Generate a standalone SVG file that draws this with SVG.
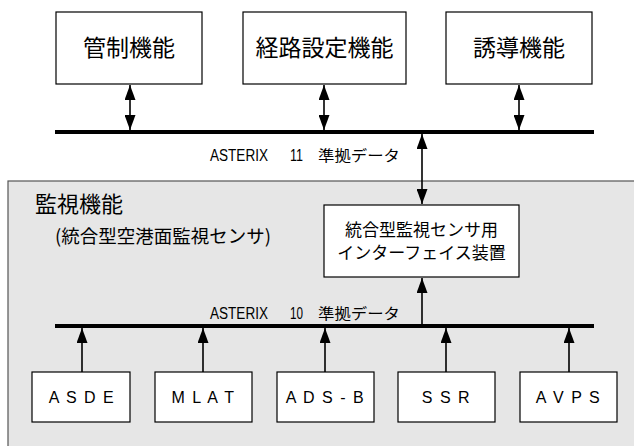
<svg xmlns="http://www.w3.org/2000/svg" width="634" height="446" viewBox="0 0 634 446">
<style>
.box{fill:#fff;stroke:#000;stroke-width:1.2}
.t{font-family:"Noto Sans CJK JP","Noto Sans",sans-serif;fill:#000}
.big{font-size:23px;text-anchor:middle}
.mid{font-size:17px;text-anchor:middle}
.sen{font-family:"Liberation Sans","Noto Sans",sans-serif;font-size:16px;text-anchor:middle;letter-spacing:1.5px}
.ast{font-family:"Liberation Sans","Noto Sans CJK JP",sans-serif;font-size:16px}
.ln{stroke:#000;stroke-width:1.6;fill:none}
.bus{stroke:#000;stroke-width:4}
</style>
<defs>
<marker id="ah" viewBox="0 0 15 11" refX="15" refY="5.5" markerWidth="15" markerHeight="11" markerUnits="userSpaceOnUse" orient="auto-start-reverse">
<path d="M0,0 L15,5.5 L0,11 z" fill="#000"/>
</marker>
</defs>
<rect id="surveillance-area" x="8" y="181" width="640" height="280" fill="#e6e6e6" stroke="#555" stroke-width="1.2"/>
<g id="kansei"><rect class="box" x="56" y="12" width="146" height="72"/><text class="t big" x="129" y="56">管制機能</text></g>
<g id="keiro"><rect class="box" x="243" y="12" width="163" height="72"/><text class="t big" x="324.5" y="56">経路設定機能</text></g>
<g id="yudo"><rect class="box" x="446" y="12" width="146" height="72"/><text class="t big" x="519" y="56">誘導機能</text></g>
<g id="kanshi-label"><text class="t" x="35" y="212" font-size="22">監視機能</text><text class="t" x="55" y="243" font-size="18.5">(統合型空港面監視センサ)</text></g>
<g id="interface"><rect class="box" x="324" y="205" width="195" height="72"/><text class="t mid" x="421.5" y="236">統合型監視センサ用</text><text class="t mid" x="421.5" y="259">インターフェイス装置</text></g>
<g id="asde"><rect class="box" x="32" y="372" width="98" height="50"/><text class="sen" x="82" y="403">A S D E</text></g>
<g id="mlat"><rect class="box" x="155" y="372" width="97" height="50"/><text class="sen" x="203.5" y="403">M L A T</text></g>
<g id="adsb"><rect class="box" x="277" y="372" width="97" height="50"/><text class="sen" x="325.5" y="403">A D S - B</text></g>
<g id="ssr"><rect class="box" x="398" y="372" width="97" height="50"/><text class="sen" x="446.5" y="403">S S R</text></g>
<g id="avps"><rect class="box" x="520" y="372" width="97" height="50"/><text class="sen" x="568.5" y="403">A V P S</text></g>
<g id="asterix11"><text class="t ast" y="161"><tspan x="210" textLength="58" lengthAdjust="spacingAndGlyphs">ASTERIX</tspan><tspan x="290" textLength="13" lengthAdjust="spacingAndGlyphs">11</tspan><tspan x="318" textLength="82" lengthAdjust="spacingAndGlyphs" font-family="Noto Sans CJK JP" font-size="15">準拠データ</tspan></text></g>
<g id="asterix10"><text class="t ast" y="319"><tspan x="210" textLength="58" lengthAdjust="spacingAndGlyphs">ASTERIX</tspan><tspan x="290" textLength="13" lengthAdjust="spacingAndGlyphs">10</tspan><tspan x="318" textLength="82" lengthAdjust="spacingAndGlyphs" font-family="Noto Sans CJK JP" font-size="15">準拠データ</tspan></text></g>
<g id="connectors">
<line class="bus" x1="55" y1="132" x2="594" y2="132"/>
<line class="bus" x1="55" y1="326" x2="594" y2="326"/>
<line class="ln" x1="130" y1="85" x2="130" y2="130" marker-start="url(#ah)" marker-end="url(#ah)"/>
<line class="ln" x1="324" y1="85" x2="324" y2="130" marker-start="url(#ah)" marker-end="url(#ah)"/>
<line class="ln" x1="519" y1="85" x2="519" y2="130" marker-start="url(#ah)" marker-end="url(#ah)"/>
<line class="ln" x1="422" y1="134" x2="422" y2="204" marker-start="url(#ah)" marker-end="url(#ah)"/>
<line class="ln" x1="422" y1="324" x2="422" y2="278" marker-end="url(#ah)"/>
<line class="ln" x1="82" y1="372" x2="82" y2="328" marker-end="url(#ah)"/>
<line class="ln" x1="203" y1="372" x2="203" y2="328" marker-end="url(#ah)"/>
<line class="ln" x1="325" y1="372" x2="325" y2="328" marker-end="url(#ah)"/>
<line class="ln" x1="446" y1="372" x2="446" y2="328" marker-end="url(#ah)"/>
<line class="ln" x1="569" y1="372" x2="569" y2="328" marker-end="url(#ah)"/>
</g>
</svg>
